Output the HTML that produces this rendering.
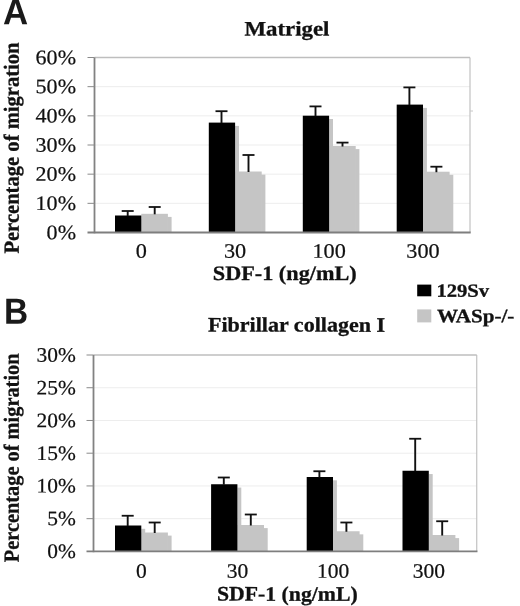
<!DOCTYPE html>
<html><head><meta charset="utf-8"><title>Figure</title>
<style>
html,body{margin:0;padding:0;background:#fff;}
body{width:520px;height:606px;overflow:hidden;font-family:"Liberation Serif",serif;}
svg{display:block;filter:grayscale(1) blur(0.45px);}
</style></head><body>
<svg width="520" height="606" viewBox="0 0 520 606">
<rect width="520" height="606" fill="#fff"/>
<line x1="94.50" y1="86.67" x2="470.00" y2="86.67" stroke="#ededed" stroke-width="1"/>
<line x1="94.50" y1="115.83" x2="470.00" y2="115.83" stroke="#ededed" stroke-width="1"/>
<line x1="94.50" y1="145.00" x2="470.00" y2="145.00" stroke="#ededed" stroke-width="1"/>
<line x1="94.50" y1="174.17" x2="470.00" y2="174.17" stroke="#ededed" stroke-width="1"/>
<line x1="94.50" y1="203.33" x2="470.00" y2="203.33" stroke="#ededed" stroke-width="1"/>
<line x1="94.50" y1="57.50" x2="470.00" y2="57.50" stroke="#bebebe" stroke-width="1.5"/>
<line x1="470.00" y1="57.50" x2="470.00" y2="232.50" stroke="#bcbcbc" stroke-width="1.1"/>
<rect x="141.30" y="218.80" width="3.90" height="13.70" fill="#c5c5c5"/>
<rect x="167.30" y="216.90" width="4.30" height="15.60" fill="#c5c5c5"/>
<rect x="141.30" y="213.80" width="26.60" height="18.70" fill="#c5c5c5"/>
<rect x="115.00" y="215.50" width="26.30" height="17.00" fill="#000"/>
<line x1="127.70" y1="211.00" x2="127.70" y2="216.00" stroke="#111" stroke-width="1.9"/>
<line x1="121.70" y1="211.00" x2="133.70" y2="211.00" stroke="#111" stroke-width="1.8"/>
<line x1="154.70" y1="207.00" x2="154.70" y2="214.30" stroke="#111" stroke-width="1.9"/>
<line x1="148.70" y1="207.00" x2="160.70" y2="207.00" stroke="#111" stroke-width="1.8"/>
<rect x="235.10" y="125.90" width="3.90" height="106.60" fill="#c5c5c5"/>
<rect x="261.10" y="174.60" width="4.30" height="57.90" fill="#c5c5c5"/>
<rect x="235.10" y="171.50" width="26.60" height="61.00" fill="#c5c5c5"/>
<rect x="208.80" y="122.60" width="26.30" height="109.90" fill="#000"/>
<line x1="221.50" y1="111.20" x2="221.50" y2="123.10" stroke="#111" stroke-width="1.9"/>
<line x1="215.50" y1="111.20" x2="227.50" y2="111.20" stroke="#111" stroke-width="1.8"/>
<line x1="248.50" y1="155.00" x2="248.50" y2="172.00" stroke="#111" stroke-width="1.9"/>
<line x1="242.50" y1="155.00" x2="254.50" y2="155.00" stroke="#111" stroke-width="1.8"/>
<rect x="329.10" y="119.00" width="3.90" height="113.50" fill="#c5c5c5"/>
<rect x="355.10" y="149.10" width="4.30" height="83.40" fill="#c5c5c5"/>
<rect x="329.10" y="146.00" width="26.60" height="86.50" fill="#c5c5c5"/>
<rect x="302.80" y="115.70" width="26.30" height="116.80" fill="#000"/>
<line x1="315.50" y1="106.40" x2="315.50" y2="116.20" stroke="#111" stroke-width="1.9"/>
<line x1="309.50" y1="106.40" x2="321.50" y2="106.40" stroke="#111" stroke-width="1.8"/>
<line x1="342.50" y1="142.60" x2="342.50" y2="146.50" stroke="#111" stroke-width="1.9"/>
<line x1="336.50" y1="142.60" x2="348.50" y2="142.60" stroke="#111" stroke-width="1.8"/>
<rect x="423.00" y="107.90" width="3.90" height="124.60" fill="#c5c5c5"/>
<rect x="449.00" y="174.80" width="4.30" height="57.70" fill="#c5c5c5"/>
<rect x="423.00" y="171.70" width="26.60" height="60.80" fill="#c5c5c5"/>
<rect x="396.70" y="104.60" width="26.30" height="127.90" fill="#000"/>
<line x1="409.40" y1="87.40" x2="409.40" y2="105.10" stroke="#111" stroke-width="1.9"/>
<line x1="403.40" y1="87.40" x2="415.40" y2="87.40" stroke="#111" stroke-width="1.8"/>
<line x1="436.40" y1="166.70" x2="436.40" y2="172.20" stroke="#111" stroke-width="1.9"/>
<line x1="430.40" y1="166.70" x2="442.40" y2="166.70" stroke="#111" stroke-width="1.8"/>
<line x1="94.50" y1="57.50" x2="94.50" y2="233.30" stroke="#828282" stroke-width="1.8"/>
<line x1="87.50" y1="232.50" x2="470.70" y2="232.50" stroke="#7e7e7e" stroke-width="1.8"/>
<line x1="87.50" y1="57.50" x2="94.50" y2="57.50" stroke="#8a8a8a" stroke-width="1"/>
<line x1="87.50" y1="86.67" x2="94.50" y2="86.67" stroke="#8a8a8a" stroke-width="1"/>
<line x1="87.50" y1="115.83" x2="94.50" y2="115.83" stroke="#8a8a8a" stroke-width="1"/>
<line x1="87.50" y1="145.00" x2="94.50" y2="145.00" stroke="#8a8a8a" stroke-width="1"/>
<line x1="87.50" y1="174.17" x2="94.50" y2="174.17" stroke="#8a8a8a" stroke-width="1"/>
<line x1="87.50" y1="203.33" x2="94.50" y2="203.33" stroke="#8a8a8a" stroke-width="1"/>
<text transform="translate(76.00 64.20) rotate(0.03) scale(1.07 1)" text-anchor="end" font-family="'Liberation Serif', serif" font-weight="normal" font-size="20.6" fill="#111" stroke="#111" stroke-width="0.22">60%</text>
<text transform="translate(76.00 93.37) rotate(0.03) scale(1.07 1)" text-anchor="end" font-family="'Liberation Serif', serif" font-weight="normal" font-size="20.6" fill="#111" stroke="#111" stroke-width="0.22">50%</text>
<text transform="translate(76.00 122.53) rotate(0.03) scale(1.07 1)" text-anchor="end" font-family="'Liberation Serif', serif" font-weight="normal" font-size="20.6" fill="#111" stroke="#111" stroke-width="0.22">40%</text>
<text transform="translate(76.00 151.70) rotate(0.03) scale(1.07 1)" text-anchor="end" font-family="'Liberation Serif', serif" font-weight="normal" font-size="20.6" fill="#111" stroke="#111" stroke-width="0.22">30%</text>
<text transform="translate(76.00 180.87) rotate(0.03) scale(1.07 1)" text-anchor="end" font-family="'Liberation Serif', serif" font-weight="normal" font-size="20.6" fill="#111" stroke="#111" stroke-width="0.22">20%</text>
<text transform="translate(76.00 210.03) rotate(0.03) scale(1.07 1)" text-anchor="end" font-family="'Liberation Serif', serif" font-weight="normal" font-size="20.6" fill="#111" stroke="#111" stroke-width="0.22">10%</text>
<text transform="translate(76.00 239.20) rotate(0.03) scale(1.07 1)" text-anchor="end" font-family="'Liberation Serif', serif" font-weight="normal" font-size="20.6" fill="#111" stroke="#111" stroke-width="0.22">0%</text>
<text transform="translate(141.30 257.80) rotate(0.03) scale(1.08 1)" text-anchor="middle" font-family="'Liberation Serif', serif" font-weight="normal" font-size="20.6" fill="#111" stroke="#111" stroke-width="0.22">0</text>
<text transform="translate(235.10 257.80) rotate(0.03) scale(1.08 1)" text-anchor="middle" font-family="'Liberation Serif', serif" font-weight="normal" font-size="20.6" fill="#111" stroke="#111" stroke-width="0.22">30</text>
<text transform="translate(329.10 257.80) rotate(0.03) scale(1.08 1)" text-anchor="middle" font-family="'Liberation Serif', serif" font-weight="normal" font-size="20.6" fill="#111" stroke="#111" stroke-width="0.22">100</text>
<text transform="translate(423.00 257.80) rotate(0.03) scale(1.08 1)" text-anchor="middle" font-family="'Liberation Serif', serif" font-weight="normal" font-size="20.6" fill="#111" stroke="#111" stroke-width="0.22">300</text>
<text transform="translate(286.90 35.60) rotate(0.03) scale(1.11 1)" text-anchor="middle" font-family="'Liberation Serif', serif" font-weight="bold" font-size="20.6" fill="#111" stroke="#111" stroke-width="0.3">Matrigel</text>
<text transform="translate(212.80 280.00) rotate(0.03) scale(1.08 1)" text-anchor="start" font-family="'Liberation Serif', serif" font-weight="bold" font-size="20.6" fill="#111" stroke="#111" stroke-width="0.3">SDF-1 (ng/mL)</text>
<text transform="translate(18.80 253.60) rotate(-90.03) scale(1.0 1.05)" font-family="'Liberation Serif', serif" font-weight="bold" font-size="20.6" fill="#111" stroke="#111" stroke-width="0.3">Percentage of migration</text>
<line x1="93.50" y1="387.73" x2="476.75" y2="387.73" stroke="#ededed" stroke-width="1"/>
<line x1="93.50" y1="420.47" x2="476.75" y2="420.47" stroke="#ededed" stroke-width="1"/>
<line x1="93.50" y1="453.20" x2="476.75" y2="453.20" stroke="#ededed" stroke-width="1"/>
<line x1="93.50" y1="485.93" x2="476.75" y2="485.93" stroke="#ededed" stroke-width="1"/>
<line x1="93.50" y1="518.67" x2="476.75" y2="518.67" stroke="#ededed" stroke-width="1"/>
<line x1="93.50" y1="355.00" x2="476.75" y2="355.00" stroke="#bebebe" stroke-width="1.5"/>
<line x1="476.75" y1="355.00" x2="476.75" y2="551.40" stroke="#bcbcbc" stroke-width="1.1"/>
<rect x="141.30" y="528.80" width="3.90" height="22.60" fill="#c5c5c5"/>
<rect x="167.30" y="535.60" width="4.30" height="15.80" fill="#c5c5c5"/>
<rect x="141.30" y="532.50" width="26.60" height="18.90" fill="#c5c5c5"/>
<rect x="115.00" y="525.50" width="26.30" height="25.90" fill="#000"/>
<line x1="127.70" y1="515.75" x2="127.70" y2="526.00" stroke="#111" stroke-width="1.9"/>
<line x1="121.70" y1="515.75" x2="133.70" y2="515.75" stroke="#111" stroke-width="1.8"/>
<line x1="154.70" y1="522.50" x2="154.70" y2="533.00" stroke="#111" stroke-width="1.9"/>
<line x1="148.70" y1="522.50" x2="160.70" y2="522.50" stroke="#111" stroke-width="1.8"/>
<rect x="237.40" y="487.55" width="3.90" height="63.85" fill="#c5c5c5"/>
<rect x="263.40" y="528.10" width="4.30" height="23.30" fill="#c5c5c5"/>
<rect x="237.40" y="525.00" width="26.60" height="26.40" fill="#c5c5c5"/>
<rect x="211.10" y="484.25" width="26.30" height="67.15" fill="#000"/>
<line x1="223.80" y1="477.50" x2="223.80" y2="484.75" stroke="#111" stroke-width="1.9"/>
<line x1="217.80" y1="477.50" x2="229.80" y2="477.50" stroke="#111" stroke-width="1.8"/>
<line x1="250.80" y1="514.50" x2="250.80" y2="525.50" stroke="#111" stroke-width="1.9"/>
<line x1="244.80" y1="514.50" x2="256.80" y2="514.50" stroke="#111" stroke-width="1.8"/>
<rect x="333.00" y="480.30" width="3.90" height="71.10" fill="#c5c5c5"/>
<rect x="359.00" y="534.35" width="4.30" height="17.05" fill="#c5c5c5"/>
<rect x="333.00" y="531.25" width="26.60" height="20.15" fill="#c5c5c5"/>
<rect x="306.70" y="477.00" width="26.30" height="74.40" fill="#000"/>
<line x1="319.40" y1="471.25" x2="319.40" y2="477.50" stroke="#111" stroke-width="1.9"/>
<line x1="313.40" y1="471.25" x2="325.40" y2="471.25" stroke="#111" stroke-width="1.8"/>
<line x1="346.40" y1="522.50" x2="346.40" y2="531.75" stroke="#111" stroke-width="1.9"/>
<line x1="340.40" y1="522.50" x2="352.40" y2="522.50" stroke="#111" stroke-width="1.8"/>
<rect x="428.80" y="474.05" width="3.90" height="77.35" fill="#c5c5c5"/>
<rect x="454.80" y="538.10" width="4.30" height="13.30" fill="#c5c5c5"/>
<rect x="428.80" y="535.00" width="26.60" height="16.40" fill="#c5c5c5"/>
<rect x="402.50" y="470.75" width="26.30" height="80.65" fill="#000"/>
<line x1="415.20" y1="438.75" x2="415.20" y2="471.25" stroke="#111" stroke-width="1.9"/>
<line x1="409.20" y1="438.75" x2="421.20" y2="438.75" stroke="#111" stroke-width="1.8"/>
<line x1="442.20" y1="521.25" x2="442.20" y2="535.50" stroke="#111" stroke-width="1.9"/>
<line x1="436.20" y1="521.25" x2="448.20" y2="521.25" stroke="#111" stroke-width="1.8"/>
<line x1="93.50" y1="355.00" x2="93.50" y2="552.20" stroke="#828282" stroke-width="1.8"/>
<line x1="86.50" y1="551.40" x2="477.45" y2="551.40" stroke="#7e7e7e" stroke-width="1.8"/>
<line x1="86.50" y1="355.00" x2="93.50" y2="355.00" stroke="#8a8a8a" stroke-width="1"/>
<line x1="86.50" y1="387.73" x2="93.50" y2="387.73" stroke="#8a8a8a" stroke-width="1"/>
<line x1="86.50" y1="420.47" x2="93.50" y2="420.47" stroke="#8a8a8a" stroke-width="1"/>
<line x1="86.50" y1="453.20" x2="93.50" y2="453.20" stroke="#8a8a8a" stroke-width="1"/>
<line x1="86.50" y1="485.93" x2="93.50" y2="485.93" stroke="#8a8a8a" stroke-width="1"/>
<line x1="86.50" y1="518.67" x2="93.50" y2="518.67" stroke="#8a8a8a" stroke-width="1"/>
<text transform="translate(75.80 361.70) rotate(0.03) scale(1.04 1)" text-anchor="end" font-family="'Liberation Serif', serif" font-weight="normal" font-size="20.6" fill="#111" stroke="#111" stroke-width="0.22">30%</text>
<text transform="translate(75.80 394.43) rotate(0.03) scale(1.04 1)" text-anchor="end" font-family="'Liberation Serif', serif" font-weight="normal" font-size="20.6" fill="#111" stroke="#111" stroke-width="0.22">25%</text>
<text transform="translate(75.80 427.17) rotate(0.03) scale(1.04 1)" text-anchor="end" font-family="'Liberation Serif', serif" font-weight="normal" font-size="20.6" fill="#111" stroke="#111" stroke-width="0.22">20%</text>
<text transform="translate(75.80 459.90) rotate(0.03) scale(1.04 1)" text-anchor="end" font-family="'Liberation Serif', serif" font-weight="normal" font-size="20.6" fill="#111" stroke="#111" stroke-width="0.22">15%</text>
<text transform="translate(75.80 492.63) rotate(0.03) scale(1.04 1)" text-anchor="end" font-family="'Liberation Serif', serif" font-weight="normal" font-size="20.6" fill="#111" stroke="#111" stroke-width="0.22">10%</text>
<text transform="translate(75.80 525.37) rotate(0.03) scale(1.04 1)" text-anchor="end" font-family="'Liberation Serif', serif" font-weight="normal" font-size="20.6" fill="#111" stroke="#111" stroke-width="0.22">5%</text>
<text transform="translate(75.80 558.10) rotate(0.03) scale(1.04 1)" text-anchor="end" font-family="'Liberation Serif', serif" font-weight="normal" font-size="20.6" fill="#111" stroke="#111" stroke-width="0.22">0%</text>
<text transform="translate(141.30 577.70) rotate(0.03) scale(1.045 1)" text-anchor="middle" font-family="'Liberation Serif', serif" font-weight="normal" font-size="20.6" fill="#111" stroke="#111" stroke-width="0.22">0</text>
<text transform="translate(237.40 577.70) rotate(0.03) scale(1.045 1)" text-anchor="middle" font-family="'Liberation Serif', serif" font-weight="normal" font-size="20.6" fill="#111" stroke="#111" stroke-width="0.22">30</text>
<text transform="translate(333.00 577.70) rotate(0.03) scale(1.045 1)" text-anchor="middle" font-family="'Liberation Serif', serif" font-weight="normal" font-size="20.6" fill="#111" stroke="#111" stroke-width="0.22">100</text>
<text transform="translate(428.80 577.70) rotate(0.03) scale(1.045 1)" text-anchor="middle" font-family="'Liberation Serif', serif" font-weight="normal" font-size="20.6" fill="#111" stroke="#111" stroke-width="0.22">300</text>
<text transform="translate(296.50 331.60) rotate(0.03) scale(1.07 1)" text-anchor="middle" font-family="'Liberation Serif', serif" font-weight="bold" font-size="20.6" fill="#111" stroke="#111" stroke-width="0.3">Fibrillar collagen I</text>
<text transform="translate(217.00 600.60) rotate(0.03) scale(1.056 1)" text-anchor="start" font-family="'Liberation Serif', serif" font-weight="bold" font-size="20.6" fill="#111" stroke="#111" stroke-width="0.3">SDF-1 (ng/mL)</text>
<text transform="translate(18.80 562.20) rotate(-90.03) scale(0.988 1.05)" font-family="'Liberation Serif', serif" font-weight="bold" font-size="20.6" fill="#111" stroke="#111" stroke-width="0.3">Percentage of migration</text>
<text transform="translate(3.00 24.30) rotate(0.03) scale(0.955 1)" text-anchor="start" font-family="'Liberation Sans', serif" font-weight="bold" font-size="36.5" fill="#1a1a1a" stroke="#1a1a1a" stroke-width="0">A</text>
<text transform="translate(4.00 323.80) rotate(0.03) scale(0.915 1)" text-anchor="start" font-family="'Liberation Sans', serif" font-weight="bold" font-size="36.5" fill="#1a1a1a" stroke="#1a1a1a" stroke-width="0">B</text>
<rect x="417.20" y="284.60" width="14.10" height="11.70" fill="#000"/>
<rect x="417.20" y="309.40" width="14.10" height="13.00" fill="#c5c5c5"/>
<text transform="translate(436.40 296.80) rotate(0.03) scale(1.11 1)" text-anchor="start" font-family="'Liberation Serif', serif" font-weight="bold" font-size="18.6" fill="#111" stroke="#111" stroke-width="0.3">129Sv</text>
<text transform="translate(437.00 322.30) rotate(0.03) scale(1.11 1)" text-anchor="start" font-family="'Liberation Serif', serif" font-weight="bold" font-size="19.0" fill="#111" stroke="#111" stroke-width="0.3">WASp-/-</text>
<line x1="470.00" y1="111.00" x2="473.00" y2="111.00" stroke="#c8c8c8" stroke-width="1"/>
</svg>
</body></html>
